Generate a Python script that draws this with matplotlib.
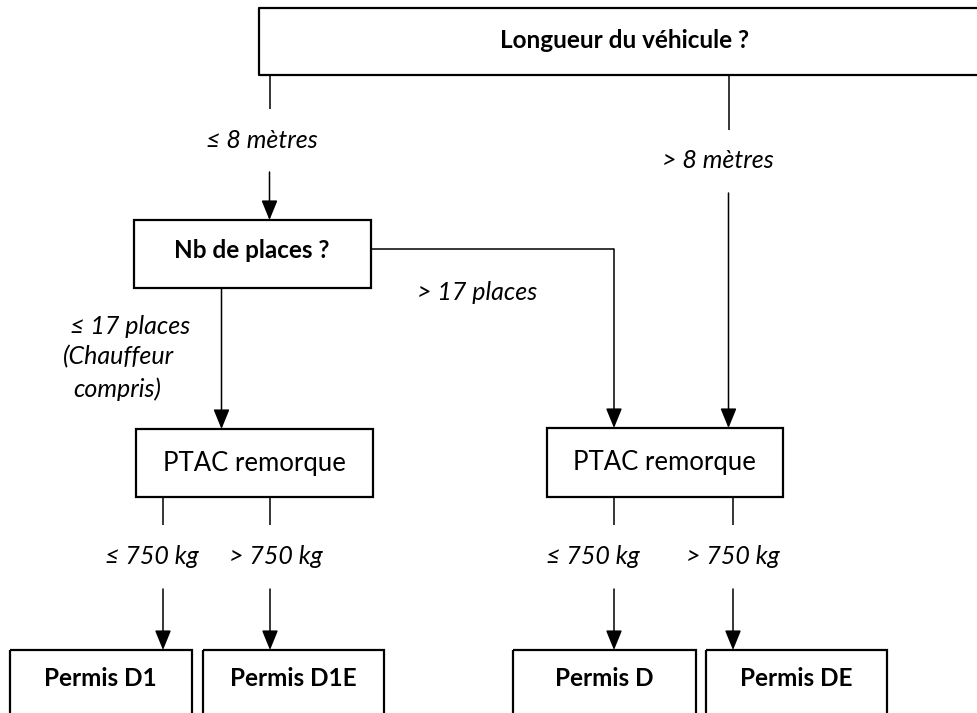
import matplotlib.pyplot as plt
from matplotlib.patches import Rectangle

# texts of the flowchart
question_top = "Longueur du véhicule ?"
question_places = "Nb de places ?"
ptac_label = "PTAC remorque"
length_labels = ["≤ 8 mètres", "> 8 mètres"]
places_labels = ["≤ 17 places", "(Chauffeur", "compris)", "> 17 places"]
weight_labels = ["≤ 750 kg", "> 750 kg"]
permits = ["Permis D1", "Permis D1E", "Permis D", "Permis DE"]

plt.rcParams['font.family'] = ['Lato', 'DejaVu Sans']

fig = plt.figure(figsize=(9.78, 7.13), dpi=100)
ax = fig.add_axes([0, 0, 1, 1])
ax.set_xlim(0, 978)
ax.set_ylim(713, 0)
ax.axis('off')

FS_BOLD = 17.5
FS_REG = 18.5
FS_IT = 18


def box(x0, y0, x1, y1, text, bold=False, ty=None):
    ax.add_patch(Rectangle((x0, y0), x1 - x0, y1 - y0, fill=False, ec='black', lw=1.6))
    if ty is None:
        ty = (y0 + y1) / 2
    ax.text((x0 + x1) / 2, ty, text, ha='center', va='center',
            fontsize=FS_BOLD if bold else FS_REG,
            fontweight='bold' if bold else 'normal')


def line(xs, ys, lw=1.1):
    ax.plot(xs, ys, color='black', lw=lw, solid_capstyle='butt')


def arrow(x, y0, y1):
    ax.annotate('', xy=(x, y1), xytext=(x, y0),
                arrowprops=dict(arrowstyle='-|>,head_length=1.1,head_width=0.45', color='black',
                                lw=1.1, shrinkA=0, shrinkB=0, mutation_scale=11))


def label(x, y, text):
    ax.text(x, y, text, ha='center', va='center', fontsize=FS_IT, style='italic')


# top question (right side runs off the page)
line([990, 259, 259, 990], [8, 8, 75, 75], lw=1.6)
ax.text(625, 40, question_top, ha='center', va='center', fontsize=FS_BOLD, fontweight='bold')

# length branches
line([269.5, 269.5], [75, 109])
label(262, 140, length_labels[0])
arrow(269.5, 172, 220)

line([728.5, 728.5], [75, 130])
label(718, 161, length_labels[1])
arrow(728.5, 193, 428)

# number of places
box(133.5, 220, 370.5, 288, question_places, bold=True, ty=251)
line([370.5, 614], [249, 249])
arrow(614, 249, 428)
label(477, 293, places_labels[3])
arrow(221.5, 288, 429)
for px, py, txt in zip([130, 118, 117], [326, 357, 389], places_labels[:3]):
    label(px, py, txt)

# trailer weight boxes
box(136, 429, 373, 497, ptac_label)
box(546.5, 428, 783, 497, ptac_label)

branch_x = [163, 270, 614, 733]
label_x = [152, 276, 593, 733]
permit_boxes = [(9.5, 191.5), (203, 384), (513, 696), (705.5, 887)]
for i in range(4):
    line([branch_x[i], branch_x[i]], [497, 525])
    label(label_x[i], 556, weight_labels[i % 2])
    arrow(branch_x[i], 589, 650)
    x0, x1 = permit_boxes[i]
    box(x0, 650, x1, 730, permits[i], bold=True, ty=679)

fig.savefig('out.png', dpi=100)
